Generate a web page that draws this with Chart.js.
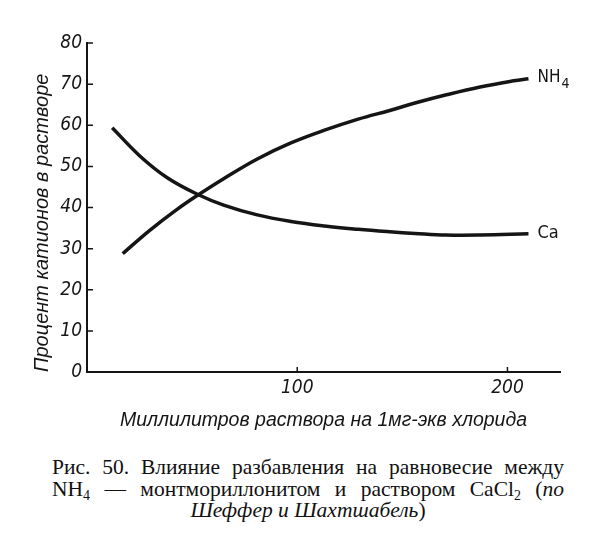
<!DOCTYPE html>
<html>
<head>
<meta charset="utf-8">
<script src="https://cdn.jsdelivr.net/npm/chart.js@4.4.1/dist/chart.umd.min.js"></script>
<style>
body { margin: 0; background: #fff; }
#wrap { position: relative; width: 600px; height: 548px; }
#graph { position: absolute; left: 0; top: 0; }
.cap { position: absolute; left: 52px; width: 512px; font-family: "Liberation Serif", "DejaVu Serif", serif; font-size: 21.5px; line-height: 21.5px; color: #111; }
.cap .j { text-align: justify; text-align-last: justify; }
.cap sub { font-size: 14px; line-height: 0; vertical-align: -4px; }
</style>
</head>
<body>
<div id="wrap">
  <canvas id="graph" width="600" height="440"></canvas>
  <div class="cap" style="top:457px">
    <div class="j">Рис. 50. Влияние разбавления на равновесие между</div>
    <div class="j">NH<sub>4</sub> — монтмориллонитом и раствором CaCl<sub>2</sub> (<i>по</i></div>
    <div style="text-align:center"><i>Шеффер и Шахтшабель</i>)</div>
  </div>
</div>
<script>
// values
const caX = [12, 25, 38, 53, 65, 81, 97, 113, 129, 144, 156, 171, 187, 210];
const caY = [59.4, 52.6, 47.3, 43.1, 40.6, 38.2, 36.6, 35.5, 34.7, 34.1, 33.7, 33.3, 33.3, 33.6];
const nhX = [17, 30, 43, 53, 65, 81, 97, 113, 129, 144, 156, 171, 187, 203, 210];
const nhY = [28.8, 34.5, 39.6, 43.1, 47.0, 51.8, 55.7, 58.8, 61.5, 63.6, 65.4, 67.4, 69.3, 70.8, 71.3];
const xTicks = [100, 200];
const yTicks = [0, 10, 20, 30, 40, 50, 60, 70, 80];

const ink = '#151515';
const tickFont = { family: "'Liberation Sans Narrow', 'DejaVu Sans Condensed', sans-serif", style: 'italic', size: 19 };
const titleFont = { family: "'Liberation Sans', 'DejaVu Sans', sans-serif", style: 'italic', size: 19.5 };

// small tick marks on the inner side of the axes + end labels of the curves
const innerTicks = {
    id: 'innerTicks',
    afterDraw(chart) {
        const { ctx, scales: { x, y } } = chart;
        ctx.save();
        ctx.strokeStyle = ink;
        ctx.lineWidth = 1.5;
        ctx.beginPath();
        y.ticks.forEach((t) => {
            if (t.value === 0) return;
            const py = y.getPixelForValue(t.value);
            ctx.moveTo(y.right, py);
            ctx.lineTo(y.right + 6, py);
        });
        x.ticks.forEach((t) => {
            const px = x.getPixelForValue(t.value);
            ctx.moveTo(px, x.top);
            ctx.lineTo(px, x.top - 5);
        });
        ctx.stroke();

        ctx.fillStyle = ink;
        ctx.textBaseline = 'middle';
        const lab = "'Liberation Sans Narrow', 'DejaVu Sans Condensed', sans-serif";
        let px = x.getPixelForValue(nhX[nhX.length - 1]) + 9;
        let py = y.getPixelForValue(nhY[nhY.length - 1]);
        ctx.font = '17px ' + lab;
        ctx.fillText('NH', px, py - 1);
        const w = ctx.measureText('NH').width;
        ctx.font = '14px ' + lab;
        ctx.fillText('4', px + w + 1, py + 6);

        px = x.getPixelForValue(caX[caX.length - 1]) + 9;
        py = y.getPixelForValue(caY[caY.length - 1]);
        ctx.font = '18px ' + lab;
        ctx.fillText('Ca', px, py);
        ctx.restore();
    }
};

const ctx = document.getElementById('graph').getContext('2d');

const datasets = [
    {
        label: 'Ca',
        data: caX.map((v, i) => ({ x: v, y: caY[i] })),
        borderColor: ink,
        borderWidth: 3.5,
        pointRadius: 0,
        showLine: true,
        tension: 0.4
    }, {
        label: 'NH4',
        data: nhX.map((v, i) => ({ x: v, y: nhY[i] })),
        borderColor: ink,
        borderWidth: 3.5,
        pointRadius: 0,
        showLine: true,
        tension: 0.4
    }
];

new Chart(ctx, {
    type: 'scatter',
    data: { datasets: datasets },
    plugins: [innerTicks],
    options: {
        responsive: false,
        animation: false,
        devicePixelRatio: 1,
        layout: { padding: { left: 0, right: 40, top: 43, bottom: 0 } },
        plugins: {
            legend: { display: false },
            tooltip: { enabled: false }
        },
        scales: {
            x: {
                type: 'linear',
                min: 0,
                max: 225,
                afterBuildTicks: (s) => { s.ticks = xTicks.map((v) => ({ value: v })); },
                afterFit: (s) => { s.height = 68; },
                grid: { display: false, drawTicks: false },
                border: { display: true, color: ink, width: 2 },
                ticks: { font: tickFont, color: ink, padding: 5 },
                title: {
                    display: true,
                    text: 'Миллилитров раствора на 1мг-экв хлорида',
                    font: titleFont,
                    color: ink,
                    padding: { top: 0, bottom: 8 }
                }
            },
            y: {
                min: 0,
                max: 80,
                afterBuildTicks: (s) => { s.ticks = yTicks.map((v) => ({ value: v })); },
                afterFit: (s) => { s.width = 87; },
                grid: { display: false, drawTicks: false },
                border: { display: true, color: ink, width: 2 },
                ticks: { font: tickFont, color: ink, padding: 5 },
                title: {
                    display: true,
                    text: 'Процент катионов в растворе',
                    align: 'start',
                    font: { family: titleFont.family, style: 'italic', size: 20 },
                    color: ink,
                    padding: { top: 30, bottom: 0 }
                }
            }
        }
    }
});
</script>
</body>
</html>
